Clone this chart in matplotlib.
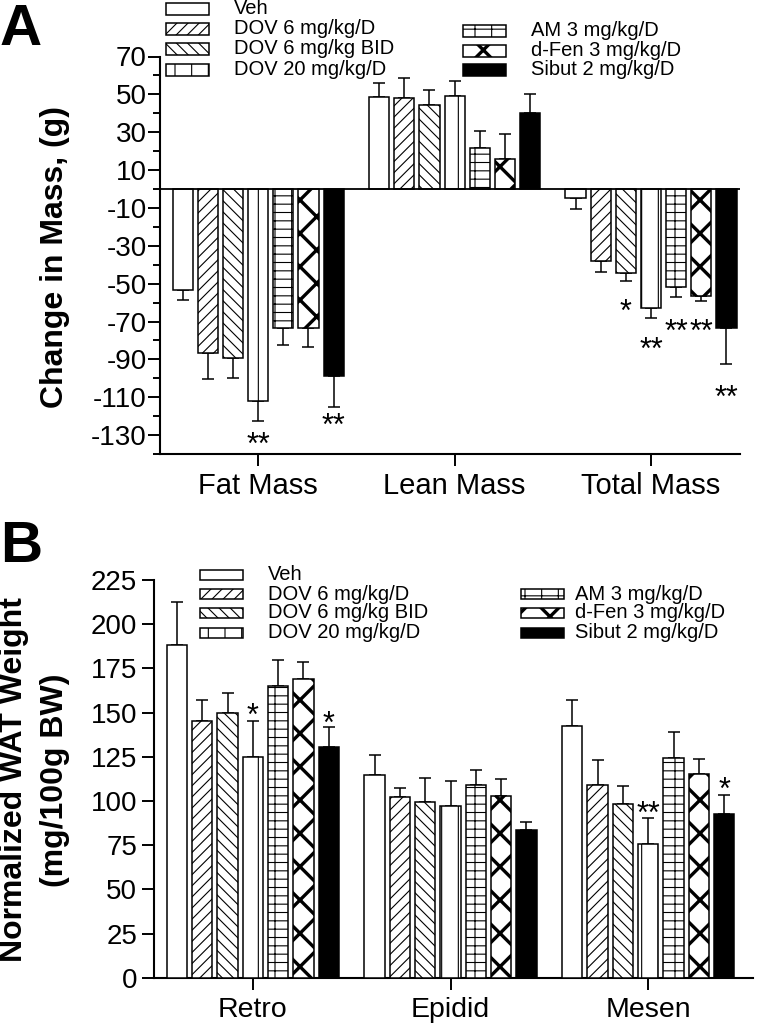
import matplotlib
matplotlib.use('Agg')
import matplotlib.pyplot as plt
from matplotlib.patches import Rectangle
from matplotlib.ticker import FixedLocator
import numpy as np

plt.rcParams['font.family'] = ['Liberation Sans', 'DejaVu Sans']
plt.rcParams['hatch.linewidth'] = 0.8
plt.rcParams['axes.unicode_minus'] = False

# ---------------- data ----------------
series_names = ['Veh', 'DOV 6 mg/kg/D', 'DOV 6 mg/kg BID', 'DOV 20 mg/kg/D',
                'AM 3 mg/kg/D', 'd-Fen 3 mg/kg/D', 'Sibut 2 mg/kg/D']

# Panel A: change in mass (g)
a_categories = ['Fat Mass', 'Lean Mass', 'Total Mass']
a_veh   = [-53.6, 48.6, -4.8]
a_dov6  = [-86.7, 48.0, -38.2]
a_bid   = [-89.1, 44.5, -44.4]
a_dov20 = [-112.1, 49.3, -63.1]
a_am    = [-73.4, 21.4, -51.6]
a_dfen  = [-73.2, 16.0, -56.6]
a_sibut = [-99.0, 40.0, -73.4]
a_veh_err   = [5.3, 7.3, 5.6]
a_dov6_err  = [13.8, 10.5, 5.5]
a_bid_err   = [11.0, 7.6, 4.4]
a_dov20_err = [10.3, 7.6, 5.0]
a_am_err    = [8.8, 9.4, 5.7]
a_dfen_err  = [10.1, 13.2, 2.5]
a_sibut_err = [16.0, 10.2, 19.1]
a_yticks = [70, 50, 30, 10, -10, -30, -50, -70, -90, -110, -130]
# significance marks: (category, series, y, text)
a_stars = [(0, 3, -130.8, '**'), (0, 6, -121.0, '**'), (2, 2, -60.7, '*'),
           (2, 3, -80.7, '**'), (2, 4, -71.3, '**'), (2, 5, -71.3, '**'),
           (2, 6, -106.2, '**')]

# Panel B: normalized WAT weight (mg/100g BW)
b_categories = ['Retro', 'Epidid', 'Mesen']
b_veh   = [188.1, 114.6, 142.5]
b_dov6  = [145.5, 102.2, 109.2]
b_bid   = [149.5, 99.4, 98.2]
b_dov20 = [125.0, 96.9, 75.4]
b_am    = [165.1, 108.8, 124.4]
b_dfen  = [169.2, 102.9, 115.0]
b_sibut = [130.5, 83.7, 92.4]
b_veh_err   = [24.3, 11.2, 14.4]
b_dov6_err  = [11.5, 5.1, 13.9]
b_bid_err   = [11.5, 13.5, 10.0]
b_dov20_err = [20.4, 14.5, 15.1]
b_am_err    = [14.5, 8.5, 14.7]
b_dfen_err  = [9.5, 9.3, 8.9]
b_sibut_err = [11.1, 4.3, 10.9]
b_yticks = [0, 25, 50, 75, 100, 125, 150, 175, 200, 225]
b_stars = [(0, 3, 152.6, '*'), (0, 6, 148.1, '*'), (2, 3, 97.2, '**'),
           (2, 6, 110.9, '*')]

# ---------------- styles ----------------
styles = [
    dict(fc='white', hatch=None, hlw=None),
    dict(fc='white', hatch='///', hlw=None),
    dict(fc='white', hatch='\\\\\\', hlw=None),
    dict(fc='white', hatch='|', hlw=None),
    dict(fc='white', hatch='+-', hlw=None),
    dict(fc='white', hatch='x', hlw=2.4),
    dict(fc='black', hatch=None, hlw=None),
]
PITCH = 0.128
WIDTH = 0.103
W, H = 757, 1023

fig = plt.figure(figsize=(W / 100, H / 100), dpi=100)


def axes_px(left, right, top, bottom):
    return fig.add_axes([left / W, 1 - bottom / H, (right - left) / W, (bottom - top) / H])


def set_hlw(patch, lw):
    try:
        patch.set_hatch_linewidth(lw)
    except AttributeError:
        pass


def draw_bars(ax, means, errs):
    x = np.arange(3)
    for i, (m, e) in enumerate(zip(means, errs)):
        st = styles[i]
        pos = x + (i - 3) * PITCH
        bars = ax.bar(pos, m, width=WIDTH, color=st['fc'], edgecolor='black',
                      linewidth=1.1, hatch=st['hatch'], zorder=3)
        if st['hlw']:
            for b in bars:
                set_hlw(b, st['hlw'])
        m = np.asarray(m, float)
        e = np.asarray(e, float)
        lower = np.where(m < 0, e, 0)
        upper = np.where(m >= 0, e, 0)
        ax.errorbar(pos, m, yerr=[lower, upper], fmt='none', ecolor='black',
                    elinewidth=1.1, capsize=4.5, capthick=1.1, zorder=2)


def draw_stars(ax, stars):
    for cat, si, y, txt in stars:
        xpos = cat + (si - 3) * PITCH
        ax.annotate(txt, xy=(xpos, y), xytext=(0, -12.5), textcoords='offset points',
                    ha='center', va='baseline', fontsize=22, zorder=6,
                    annotation_clip=False)


def style_axes(ax):
    for s in ['top', 'right']:
        ax.spines[s].set_visible(False)
    for s in ['left', 'bottom']:
        ax.spines[s].set_linewidth(1.5)


def legend_entry(x0, yc, w, h, st, label, tx):
    r = Rectangle((x0 / W, 1 - (yc + h / 2) / H), w / W, h / H, transform=fig.transFigure,
                  facecolor=st['fc'], edgecolor='black', linewidth=1.1, hatch=st['hatch'])
    if st['hlw']:
        set_hlw(r, st['hlw'])
    fig.add_artist(r)
    fig.text(tx / W, 1 - yc / H, label, ha='left', va='center', fontsize=14.5)


# ---------------- panel A ----------------
axA = axes_px(160, 740, 56.5, 454)
a_means = [a_veh, a_dov6, a_bid, a_dov20, a_am, a_dfen, a_sibut]
a_errs = [a_veh_err, a_dov6_err, a_bid_err, a_dov20_err, a_am_err, a_dfen_err, a_sibut_err]
draw_bars(axA, a_means, a_errs)
axA.axhline(0, color='black', lw=1.3, zorder=4)
axA.set_ylim(-140, 70)
axA.set_xlim(-0.5, 2.453)
axA.yaxis.set_major_locator(FixedLocator(a_yticks))
axA.yaxis.set_minor_locator(FixedLocator(list(range(-140, 70, 20))))
axA.set_xticks(range(3))
axA.set_xticklabels(a_categories)
axA.tick_params(axis='y', which='major', length=8.6, width=1.4, pad=1, labelsize=20)
axA.tick_params(axis='y', which='minor', length=5, width=1.4)
axA.tick_params(axis='x', length=8.4, width=1.4, pad=4.5, labelsize=21)
style_axes(axA)
draw_stars(axA, a_stars)

# ---------------- panel B ----------------
axB = axes_px(154, 753, 580, 977.7)
b_means = [b_veh, b_dov6, b_bid, b_dov20, b_am, b_dfen, b_sibut]
b_errs = [b_veh_err, b_dov6_err, b_bid_err, b_dov20_err, b_am_err, b_dfen_err, b_sibut_err]
draw_bars(axB, b_means, b_errs)
axB.set_ylim(0, 225)
axB.set_xlim(-0.5, 2.53)
axB.set_yticks(b_yticks)
axB.set_xticks(range(3))
axB.set_xticklabels(b_categories)
axB.tick_params(axis='y', length=8.6, width=1.4, pad=3.6, labelsize=20)
axB.tick_params(axis='x', length=8.3, width=1.4, pad=5.3, labelsize=20.5)
style_axes(axB)
draw_stars(axB, b_stars)

# ---------------- legends ----------------
a_left_rows = [9, 29, 49, 70]
a_right_rows = [31, 51, 70]
for k, yc in enumerate(a_left_rows):
    legend_entry(166, yc, 43, 11.5, styles[k], series_names[k], 234)
for k, yc in enumerate(a_right_rows):
    legend_entry(463, yc, 43, 11.5, styles[4 + k], series_names[4 + k], 531)

b_left_rows = [575, 594, 613, 633]
b_right_rows = [594, 613, 633]
for k, yc in enumerate(b_left_rows):
    legend_entry(200, yc, 43, 10, styles[k], series_names[k], 268)
for k, yc in enumerate(b_right_rows):
    legend_entry(521, yc, 43, 10, styles[4 + k], series_names[4 + k], 575)

# ---------------- labels ----------------
fig.text(55 / W, 1 - 257.5 / H, 'Change in Mass, (g)', rotation=90, ha='center',
         va='center', fontsize=23, fontweight='bold')
fig.text(14.5 / W, 1 - 780 / H, 'Normalized WAT Weight', rotation=90, ha='center',
         va='center', fontsize=23, fontweight='bold')
fig.text(55 / W, 1 - 780.5 / H, '(mg/100g BW)', rotation=90, ha='center',
         va='center', fontsize=23, fontweight='bold')
fig.text(0 / W, 1 - 45 / H, 'A', ha='left', va='baseline', fontsize=42, fontweight='bold')
fig.text(0 / W, 1 - 562 / H, 'B', ha='left', va='baseline', fontsize=42, fontweight='bold')

fig.savefig('out.png', dpi=100)
